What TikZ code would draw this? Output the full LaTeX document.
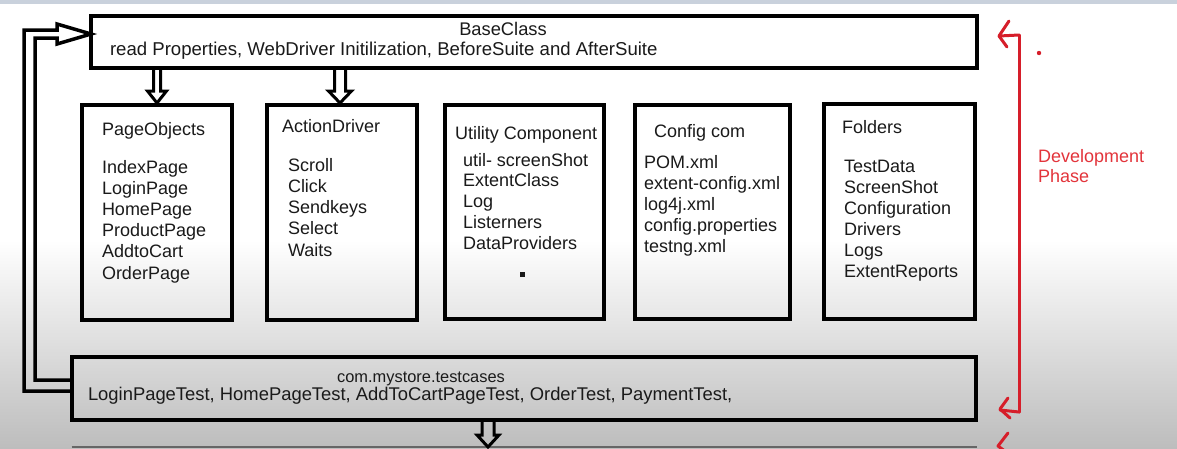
\documentclass[tikz,border=0pt]{standalone}
\usepackage{fontspec}
\setmainfont{Liberation Sans}
\usetikzlibrary{calc}
\definecolor{redann}{HTML}{D61E2A}
\definecolor{redtxt}{HTML}{E3343B}
\definecolor{topstrip}{HTML}{C9D1DC}
\definecolor{bgbot}{HTML}{BDBDBD}
\definecolor{ink}{HTML}{1A1A1A}
\newcommand\hdown[5]{% top point, tip point, x, shaft half, head half
  \draw[hollow] let \p1=(#1), \p2=(#2) in
    ({#3pt-#4pt},{\y1}) -- ({#3pt-#4pt},{\y2+14pt}) -- ({#3pt-#5pt},{\y2+14pt})
    -- ({#3pt},{\y2+2pt}) -- ({#3pt+#5pt},{\y2+14pt}) -- ({#3pt+#4pt},{\y2+14pt})
    -- ({#3pt+#4pt},{\y1});}
\newcommand\itemlist[5]{% name, x, first baseline, spacing, items
  \foreach \t [count=\i] in {#5}
    \node[txt] (#1-\i) at ({#2},{#3+(\i-1)*#4}) {\t};}
\begin{document}
\begin{tikzpicture}[x=1pt,y=-1pt,
  box/.style={draw=black, line width=4pt, rectangle, inner sep=0pt, outer sep=0pt, anchor=north west},
  txt/.style={inner sep=0pt, outer sep=0pt, font=\fontsize{18}{21}\selectfont, anchor=base west, text=ink},
  hollow/.style={draw=black, line width=3pt, line join=miter},
  ann/.style={draw=redann, line width=3pt, line cap=round, line join=round}]
% background
\fill[white] (0,0) rectangle (1177,448);
\shade[top color=white, bottom color=bgbot] (0,240) rectangle (1177,448);
\fill[topstrip] (0,0) rectangle (1177,4);
\useasboundingbox (0,0) rectangle (1177,448);
% boxes
\node[box, minimum width=886, minimum height=52.5] (base) at (91,15.5) {};
\node[box, minimum width=904.5, minimum height=63] (tc) at (71.5,357) {};
\node[box, minimum width=150, minimum height=215] (po) at (82,105) {};
\node[box, minimum width=150, minimum height=215] (ad) at (267,105) {};
\node[box, minimum width=159, minimum height=214] (ut) at (445,105) {};
\node[box, minimum width=155, minimum height=214] (cf) at (635,105) {};
\node[box, minimum width=151, minimum height=215] (fd) at (824,104) {};
% base texts
\node[txt, anchor=base, font=\fontsize{18.3}{21}\selectfont] (baset) at (503,35) {BaseClass};
\node[txt, font=\fontsize{18.6}{21}\selectfont] (basel) at (110,55) {read Properties, WebDriver Initilization, BeforeSuite and AfterSuite};
% testcases texts
\node[txt, anchor=base, font=\fontsize{16.4}{21}\selectfont] (tct) at (421,382) {com.mystore.testcases};
\node[txt, font=\fontsize{18.4}{21}\selectfont] (tcl) at (88,400) {LoginPageTest, HomePageTest, AddToCartPageTest, OrderTest, PaymentTest,};
% middle titles and lists
\node[txt] (pot) at (102,135) {PageObjects};
\itemlist{poi}{102}{173}{21.2}{IndexPage,LoginPage,HomePage,ProductPage,AddtoCart,OrderPage}
\node[txt] (adt) at (282,132) {ActionDriver};
\itemlist{adi}{288}{171}{21.25}{Scroll,Click,Sendkeys,Select,Waits}
\node[txt] (utt) at (455,139) {Utility Component};
\itemlist{uti}{463}{166}{20.75}{util- screenShot,ExtentClass,Log,Listerners,DataProviders}
\fill[ink] (520,272) rectangle (525,277);
\node[txt] (cft) at (654,137) {Config com};
\itemlist{cfi}{644}{168}{21}{POM.xml,extent-config.xml,log4j.xml,config.properties,testng.xml}
\node[txt] (fdt) at (842,133) {Folders};
\itemlist{fdi}{844}{172}{21}{TestData,ScreenShot,Configuration,Drivers,Logs,ExtentReports}
% hollow arrows
\hdown{base.south -| 157,0}{po.north -| 157,0}{157}{3.5}{9.5}
\hdown{base.south -| 340,0}{ad.north -| 340,0}{340}{5.5}{11.5}
\coordinate (bot) at (488,449);
\draw[color=black!60, line width=2.5pt] (tc.south west |- bot) ++(0,-2) -- ++(905,0);
\hdown{tc.south -| 488,0}{bot}{488}{6}{11}
% feedback loop
\draw[hollow, line width=3.5pt] (tc.west |- 0,391) -- (24,391) -- (24,30) -- (57,30) -- (57,24)
  -- (base.west |- 0,34) -- (57,44) -- (57,38) -- (35,38) -- (35,380) -- (tc.west |- 0,380);
% red annotation
\draw[ann] (1019,35) -- (1019,412);
\draw[ann] (1019,35) -- (999,36);
\draw[ann] (1009,21) -- (999,36) -- (1007,47);
\draw[ann] (1019,412) -- (1000,410);
\draw[ann] (1008,398) -- (1000,409) -- (1010,418);
\draw[ann] (1008,433) -- (998,446) -- (1006,452);
\fill[redann] (1039,53) circle (2.2pt);
\node[txt, text=redtxt] (dev) at (1038,162) {Development};
\node[txt, text=redtxt] (pha) at (1038,182) {Phase};
\end{tikzpicture}
\end{document}
